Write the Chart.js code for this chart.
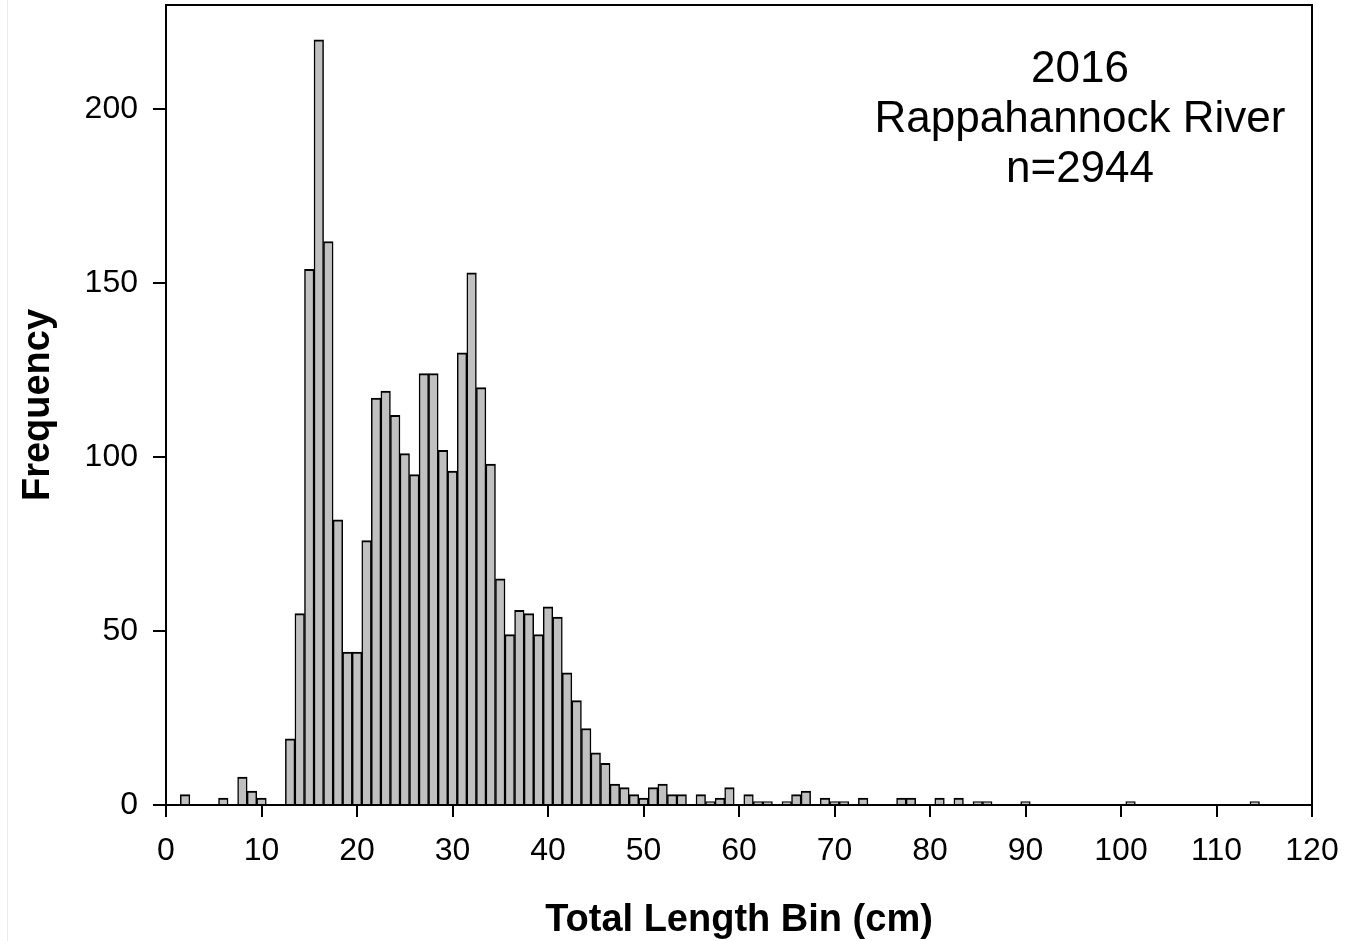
<!DOCTYPE html>
<html>
<head>
<meta charset="utf-8">
<script src="https://cdn.jsdelivr.net/npm/chart.js@4.4.0/dist/chart.umd.min.js"></script>
<style>
  html, body { margin: 0; padding: 0; background: #ffffff; }
  #wrap { position: relative; width: 1369px; height: 941px; overflow: hidden; }
  #edge { position: absolute; left: 7px; top: 0; width: 1px; height: 941px; background: #e4ebf2; }
  #note { position: absolute; left: 830px; width: 500px; top: 42px; text-align: center;
          font-family: "Liberation Sans", Arial, sans-serif; font-size: 44px; line-height: 50px; color: #000; }
  canvas { position: absolute; left: 0; top: 0; }
</style>
</head>
<body>
<div id="wrap">
  <canvas id="c" width="1369" height="941"></canvas>
  <div id="edge"></div>
  <div id="note">2016<br>Rappahannock River<br>n=2944</div>
</div>
<script>
// Length bins (cm) with non-zero counts, and their frequencies
const binCm = [2, 6, 8, 9, 10, 13, 14, 15, 16, 17, 18, 19, 20,
  21, 22, 23, 24, 25, 26, 27, 28, 29, 30,
  31, 32, 33, 34, 35, 36, 37, 38, 39, 40,
  41, 42, 43, 44, 45, 46, 47, 48, 49, 50,
  51, 52, 53, 54, 56, 57, 58, 59,
  61, 62, 63, 65, 66, 67, 69, 70,
  71, 73, 77, 78, 81, 83, 85, 86, 90, 101, 114];
const frequency = [3, 2, 8, 4, 2, 19, 55, 154, 220, 162, 82, 44, 44,
  76, 117, 119, 112, 101, 95, 124, 124, 102, 96,
  130, 153, 120, 98, 65, 49, 56, 55, 49, 57,
  54, 38, 30, 22, 15, 12, 6, 5, 3, 2,
  5, 6, 3, 3, 3, 1, 2, 5,
  3, 1, 1, 1, 3, 4, 2, 1,
  1, 2, 2, 2, 2, 2, 1, 1, 1, 1, 1];
const xTickStep = 10;
const yTickStep = 50;
const xTitle = 'Total Length Bin (cm)';
const yTitle = 'Frequency';

const FAMILY = '"Liberation Sans", Arial, sans-serif';

const framePlugin = {
  id: 'frame',
  afterDraw(chart) {
    const { ctx, chartArea: a } = chart;
    ctx.save();
    ctx.strokeStyle = '#000';
    ctx.lineWidth = 2;
    ctx.beginPath();
    ctx.moveTo(a.left - 1, a.top);
    ctx.lineTo(a.right, a.top);
    ctx.lineTo(a.right, a.bottom);
    ctx.stroke();
    ctx.restore();
  }
};

new Chart(document.getElementById('c'), {
  type: 'bar',
  data: {
    datasets: [{
      data: binCm.map((b, i) => ({ x: b, y: frequency[i] })),
      backgroundColor: '#c0c0c0',
      borderColor: '#000000',
      borderWidth: { top: 2, left: 1.5, right: 1.5, bottom: 0 },
      borderSkipped: false,
      barPercentage: 1,
      categoryPercentage: 1
    }]
  },
  options: {
    responsive: false,
    animation: false,
    devicePixelRatio: 1,
    layout: { padding: { top: 5, right: 57, left: 0, bottom: 0 } },
    plugins: { legend: { display: false }, tooltip: { enabled: false } },
    scales: {
      x: {
        type: 'linear',
        offset: false,
        min: 0, max: 120,
        ticks: { stepSize: xTickStep, autoSkip: false, maxRotation: 0, color: '#000', padding: 15,
                 font: { family: FAMILY, size: 32 } },
        grid: { offset: false, drawOnChartArea: false, drawTicks: true, tickLength: 12, tickWidth: 2, lineWidth: 2, tickColor: '#000', color: '#000' },
        border: { display: true, color: '#000', width: 2 },
        title: { display: true, text: xTitle, color: '#000',
                 font: { family: FAMILY, size: 38, weight: 'bold', lineHeight: 1 },
                 padding: { top: 0, bottom: 1 } },
        afterFit(s) { s.height = 136; s.paddingLeft = 0; s.paddingRight = 0; }
      },
      y: {
        min: 0, max: 230,
        ticks: { stepSize: yTickStep, includeBounds: false, color: '#000', padding: 15,
                 font: { family: FAMILY, size: 32 } },
        grid: { drawOnChartArea: false, drawTicks: true, tickLength: 13, tickWidth: 2, lineWidth: 2, tickColor: '#000', color: '#000' },
        border: { display: true, color: '#000', width: 2 },
        title: { display: true, text: yTitle, color: '#000',
                 font: { family: FAMILY, size: 38, weight: 'bold', lineHeight: 1 },
                 padding: { top: 20, bottom: 0 } },
        afterFit(s) { s.width = 166; s.paddingTop = 0; s.paddingBottom = 0; }
      }
    }
  },
  plugins: [framePlugin]
});
</script>
</body>
</html>
